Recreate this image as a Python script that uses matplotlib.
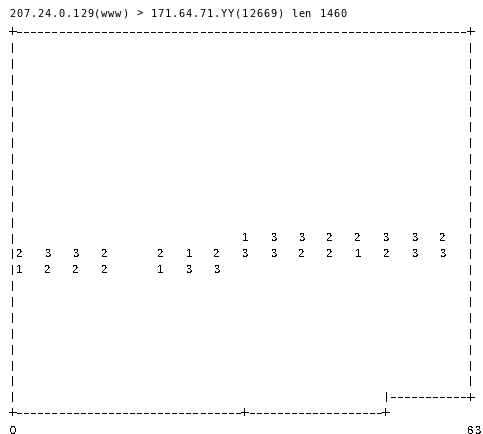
import matplotlib
matplotlib.use("Agg")
import matplotlib.pyplot as plt

plt.rcParams["text.antialiased"] = False

# ---- data ----
title = "207.24.0.129(www) > 171.64.71.YY(12669) len 1460"
x_labels = ["0", "63"]
digit_cols = [1, 5, 9, 13, 21, 25, 29, 33, 37, 41, 45, 49, 53, 57, 61]
upper_vals = [2, 3, 3, 2, 2, 1, 2, 1, 3, 3, 2, 2, 3, 3, 2]
lower_vals = [1, 2, 2, 2, 1, 3, 3, 3, 3, 2, 2, 1, 2, 3, 3]
upper_rows = [14, 14, 14, 14, 14, 14, 14, 13, 13, 13, 13, 13, 13, 13, 13]

# grid geometry (in character cells)
n_rows = 24          # top border row 0, bottom border row 24
right_col = 65
step_col = 53        # where the bottom line rises
mid_tick = 33

W, H = 483, 435
cw, x0 = 7.05, 12.5
rh, y0 = 15.875, 32.0

fig = plt.figure(figsize=(W / 100, H / 100), dpi=100)
ax = fig.add_axes([0, 0, 1, 1])
ax.set_xlim(-x0 / cw, (W - x0) / cw)
ax.set_ylim((H - y0) / rh, -y0 / rh)
ax.axis("off")

styles = {
    "title": dict(family="DejaVu Sans Mono", fontsize=7.5, antialiased=True),
    "digit": dict(family="Liberation Sans", fontsize=8.0),
    "bar": dict(family="DejaVu Sans", fontsize=7.5),
    "dash": dict(family="DejaVu Sans", fontsize=12.5),
    "plus": dict(family="DejaVu Sans", fontsize=8.5),
}

def put(col, row, ch, kind):
    ax.text(col, row, ch, color="black", ha="center", va="center",
            **styles[kind])

# title
title_row = (14 - y0) / rh
for i, ch in enumerate(title):
    if ch != " ":
        put(i, title_row, ch, "title")

# top border
put(0, 0, "+", "plus")
put(right_col, 0, "+", "plus")
for c in range(1, right_col):
    put(c, 0, "-", "dash")

# left and right verticals
for r in range(1, n_rows):
    put(0, r, "|", "bar")
for r in range(1, n_rows - 1):
    put(right_col, r, "|", "bar")

# step segment on row 23
put(step_col, n_rows - 1, "|", "bar")
for c in range(step_col + 1, right_col):
    put(c, n_rows - 1, "-", "dash")
put(right_col, n_rows - 1, "+", "plus")

# bottom border
for c in range(0, step_col + 1):
    if c in (0, mid_tick, step_col):
        put(c, n_rows, "+", "plus")
    else:
        put(c, n_rows, "-", "dash")

# digits
for c, uv, lv, ur in zip(digit_cols, upper_vals, lower_vals, upper_rows):
    put(c, ur, str(uv), "digit")
    put(c, ur + 1, str(lv), "digit")

# axis labels
label_row = (431 - y0) / rh
put(0, label_row, x_labels[0], "digit")
for i, ch in enumerate(x_labels[1]):
    put(right_col + i, label_row, ch, "digit")

fig.savefig("out.png", dpi=100, facecolor="white")
